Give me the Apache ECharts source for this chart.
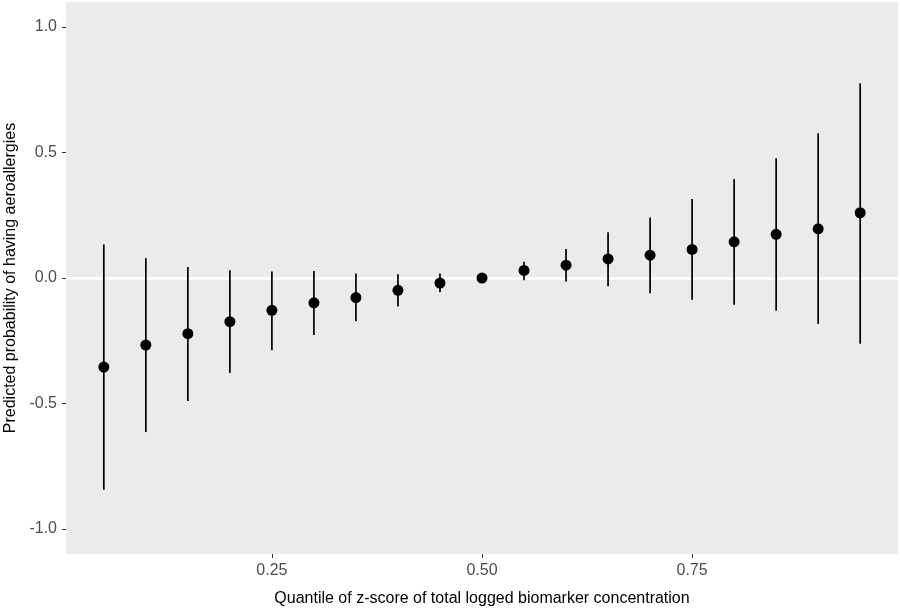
<!DOCTYPE html>
<html>
<head>
<meta charset="utf-8">
<script src="https://cdn.jsdelivr.net/npm/echarts@6/dist/echarts.min.js"></script>
<style>
  html, body { margin: 0; padding: 0; background: #fff; }
  #chart { width: 900px; height: 608px; }
</style>
</head>
<body>
<div id="chart"></div>
<script>
// quantiles on the x axis
const quantiles = [0.05, 0.10, 0.15, 0.20, 0.25, 0.30, 0.35, 0.40, 0.45, 0.50,
  0.55, 0.60, 0.65, 0.70, 0.75, 0.80, 0.85, 0.90, 0.95]
// predicted probability (point estimate)
const estimate = [-0.355, -0.267, -0.222, -0.174, -0.129, -0.099, -0.078, -0.049, -0.020, 0.000,
  0.030, 0.051, 0.076, 0.091, 0.114, 0.144, 0.174, 0.196, 0.260]
// confidence interval bounds
const lower = [-0.844, -0.614, -0.490, -0.379, -0.288, -0.227, -0.172, -0.114, -0.057, 0.000,
  -0.009, -0.014, -0.033, -0.061, -0.087, -0.107, -0.131, -0.183, -0.262]
const upper = [0.134, 0.079, 0.044, 0.031, 0.026, 0.028, 0.018, 0.015, 0.018, 0.000,
  0.065, 0.116, 0.182, 0.241, 0.315, 0.395, 0.477, 0.577, 0.776]
// tick labels
const xTicks = [0.25, 0.50, 0.75]
const yTicks = [-1.0, -0.5, 0.0, 0.5, 1.0]

const chart = echarts.init(document.getElementById('chart'))

const fontFamily = 'Liberation Sans, Arial, sans-serif'
const labelStyle = {
  color: '#4d4d4d',
  fontSize: 16,
  fontFamily
}

const option = {
  animation: false,
  grid: {
    left: 66,
    right: 2,
    top: 2,
    bottom: 54,
    outerBoundsMode: 'none',
    containLabel: false,
    show: true,
    backgroundColor: '#ebebeb',
    borderWidth: 0
  },
  xAxis: {
    type: 'value',
    min: 0.005,
    max: 0.995,
    name: 'Quantile of z-score of total logged biomarker concentration',
    nameLocation: 'middle',
    nameGap: 37,
    nameTextStyle: { color: '#000', fontSize: 16, fontFamily },
    axisLine: { show: false, onZero: false },
    axisTick: { show: true, length: 4, customValues: xTicks, lineStyle: { color: '#333', width: 1 } },
    axisLabel: { ...labelStyle, margin: 9, customValues: xTicks, formatter: v => v.toFixed(2) },
    splitLine: { show: false }
  },
  yAxis: {
    type: 'value',
    min: -1.1,
    max: 1.1,
    name: 'Predicted probability of having aeroallergies',
    nameLocation: 'middle',
    nameGap: 47,
    nameTextStyle: { color: '#000', fontSize: 16, fontFamily },
    axisLine: { show: false, onZero: false },
    axisTick: { show: true, length: 4, customValues: yTicks, lineStyle: { color: '#333', width: 1 } },
    axisLabel: { ...labelStyle, margin: 9, customValues: yTicks, formatter: v => v.toFixed(1) },
    splitLine: { show: false }
  },
  series: [
    {
      // white reference line at zero, kept under the error bars
      type: 'line',
      z: 1,
      data: [],
      markLine: {
        silent: true,
        z: 1,
        symbol: 'none',
        label: { show: false },
        lineStyle: { color: '#fff', width: 2.5, type: 'solid' },
        data: [{ yAxis: 0 }]
      }
    },
    {
      type: 'custom',
      z: 2,
      data: quantiles.map((q, i) => [q, lower[i], upper[i]]),
      renderItem: (params, api) => {
        const top = api.coord([api.value(0), api.value(2)])
        const bottom = api.coord([api.value(0), api.value(1)])
        return {
          type: 'line',
          shape: { x1: top[0], y1: top[1], x2: bottom[0], y2: bottom[1] },
          style: { stroke: '#000', lineWidth: 1.7 }
        }
      }
    },
    {
      type: 'scatter',
      z: 3,
      symbol: 'circle',
      symbolSize: 11,
      itemStyle: { color: '#000', opacity: 1 },
      data: quantiles.map((q, i) => [q, estimate[i]])
    }
  ]
}

chart.setOption(option)

window.addEventListener('resize', () => {
  chart?.resize()
})
</script>
</body>
</html>
